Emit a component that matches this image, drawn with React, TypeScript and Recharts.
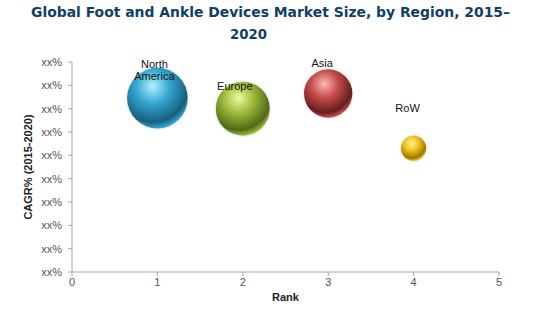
import { ScatterChart, Scatter, XAxis, YAxis, ZAxis } from 'recharts';

const regions = ['North America', 'Europe', 'Asia', 'RoW'];
const ranks = [1, 2, 3, 4];
const cagr = [74.5, 70, 76.5, 53];
const marketSize = [920, 730, 587, 157];
const yTicks = [0, 10, 20, 30, 40, 50, 60, 70, 80, 90];
const xTicks = [0, 1, 2, 3, 4, 5];

const data = regions.map((region, i) => ({
  region,
  rank: ranks[i],
  cagr: cagr[i],
  size: marketSize[i]
}));

// sphere colors: light highlight, base, dark rim
const BUBBLE: Record<string, { light: string; base: string; dark: string; lines: string[]; dx: number; dy: number }> = {
  'North America': { light: '#B5F0FF', base: '#33A6CF', dark: '#175F7E', lines: ['North', 'America'], dx: -3, dy: -30 },
  'Europe': { light: '#EEFBA0', base: '#9ABA38', dark: '#526818', lines: ['Europe'], dx: -8, dy: -19 },
  'Asia': { light: '#FFB8B8', base: '#C44C4A', dark: '#661E1D', lines: ['Asia'], dx: -6, dy: -27 },
  'RoW': { light: '#FFF6A0', base: '#F2C018', dark: '#9E7600', lines: ['RoW'], dx: -6, dy: -36 }
};

const Sphere = (props: any) => {
  const { cx, cy, payload } = props;
  const r = props.width ? props.width / 2 : Math.sqrt((props.size || 0) / Math.PI);
  const c = BUBBLE[payload.region];
  const id = 'grad-' + payload.region.replace(/\s/g, '');
  return (
    <g>
      <defs>
        <radialGradient id={id} cx="42%" cy="32%" r="68%" fx="42%" fy="30%">
          <stop offset="0%" stopColor={c.light} />
          <stop offset="42%" stopColor={c.base} />
          <stop offset="85%" stopColor={c.dark} />
          <stop offset="100%" stopColor={c.base} />
        </radialGradient>
      </defs>
      <circle cx={cx} cy={cy} r={r + 1.5} fill="#000" opacity={0.06} />
      <circle cx={cx} cy={cy} r={r} fill={`url(#${id})`} />
      {c.lines.map((line, i) => (
        <text
          key={line}
          x={cx + c.dx}
          y={cy + c.dy + (i - c.lines.length + 1) * 12 + (c.lines.length > 1 ? 12 : 0)}
          textAnchor="middle"
          fontSize={11}
          fontFamily="Liberation Sans, Arial, sans-serif"
          fill="#111"
        >
          {line}
        </text>
      ))}
    </g>
  );
};

const tickStyle = { fontSize: 11, fill: '#555', fontFamily: 'Liberation Sans, Arial, sans-serif' };

export default function App() {
  return (
    <div style={{ position: 'absolute', left: 0, top: 0, width: 550, height: 314, background: '#fff' }}>
      <svg width={550} height={45} style={{ position: 'absolute', left: 0, top: 0 }}>
        <text
          x={31}
          y={17}
          textLength={479}
          lengthAdjust="spacingAndGlyphs"
          fontSize={14.5}
          fontWeight="bold"
          fontFamily="DejaVu Sans, Verdana, sans-serif"
          fill="#0F3F66"
        >
          Global Foot and Ankle Devices Market Size, by Region, 2015–
        </text>
        <text
          x={230}
          y={39}
          textLength={37}
          lengthAdjust="spacingAndGlyphs"
          fontSize={14.5}
          fontWeight="bold"
          fontFamily="DejaVu Sans, Verdana, sans-serif"
          fill="#0F3F66"
        >
          2020
        </text>
      </svg>
      <ScatterChart width={550} height={314} margin={{ top: 62, right: 51, bottom: 12, left: 30 }}>
        <XAxis
          type="number"
          dataKey="rank"
          domain={[0, 5]}
          ticks={xTicks}
          height={30}
          stroke="#A6A6A6"
          tickSize={4}
          tick={tickStyle}
          label={{ value: 'Rank', position: 'insideBottom', offset: 1, style: { fontSize: 11, fontWeight: 'bold', fill: '#222', fontFamily: 'Liberation Sans, Arial, sans-serif' } }}
        />
        <YAxis
          type="number"
          dataKey="cagr"
          domain={[0, 90]}
          ticks={yTicks}
          width={42}
          stroke="#A6A6A6"
          tickSize={4}
          tickMargin={6}
          tick={tickStyle}
          tickFormatter={() => 'xx%'}
          label={{ value: 'CAGR% (2015-2020)', angle: -90, position: 'insideLeft', offset: -2, style: { textAnchor: 'middle', fontSize: 11, fontWeight: 'bold', fill: '#222', fontFamily: 'Liberation Sans, Arial, sans-serif' } }}
        />
        <ZAxis type="number" dataKey="size" domain={[0, 920]} range={[0, 2884]} />
        <Scatter data={data} shape={<Sphere />} isAnimationActive={false} />
      </ScatterChart>
    </div>
  );
}
